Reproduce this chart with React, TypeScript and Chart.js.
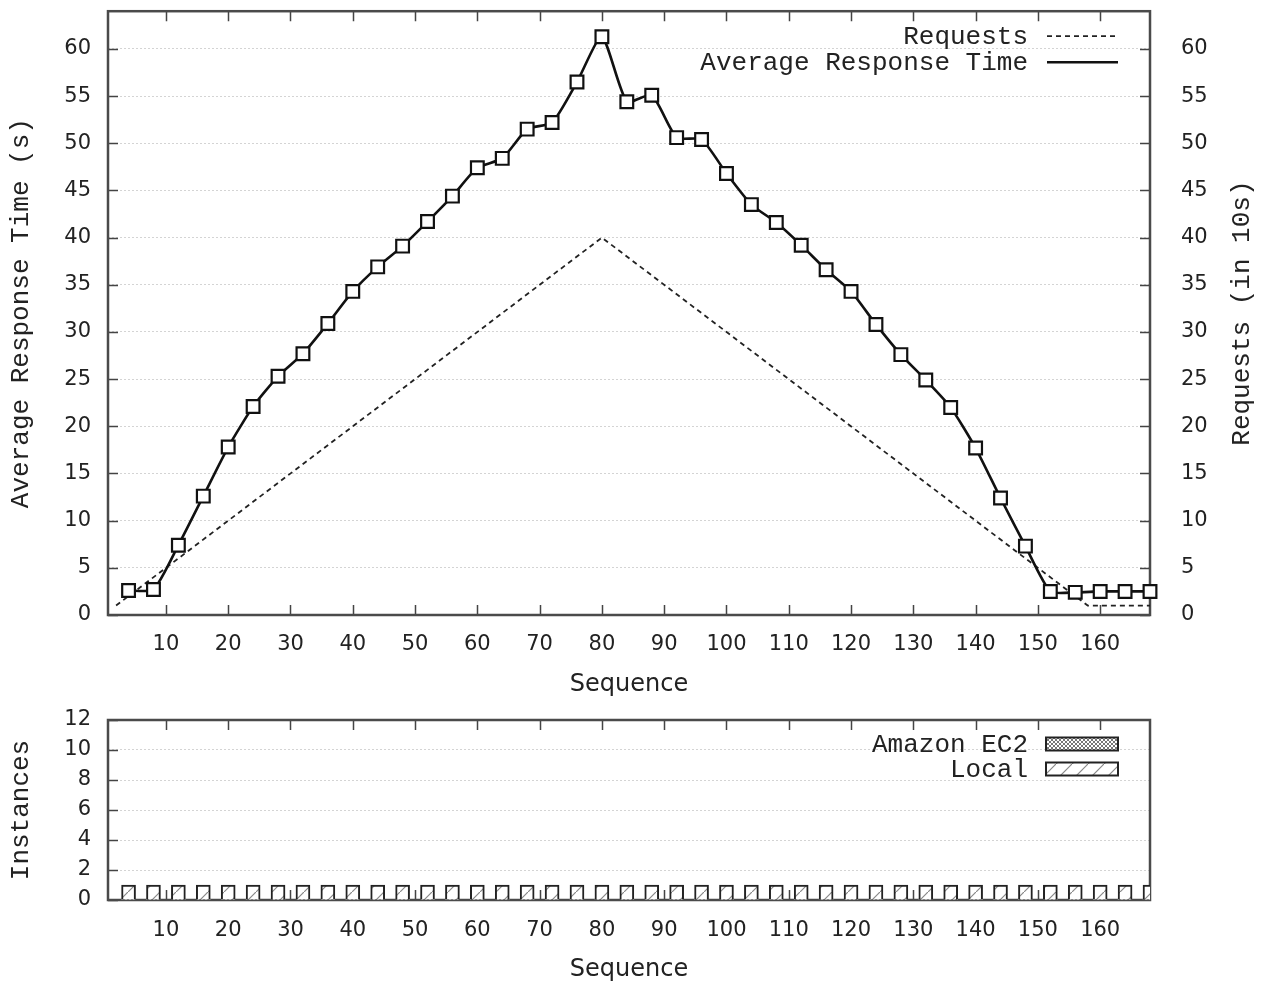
import React, { useEffect, useRef } from 'react';
import { Chart, registerables } from 'chart.js';

Chart.register(...registerables);

// ---------- data ----------
const sequence = [4, 8, 12, 16, 20, 24, 28, 32, 36, 40, 44, 48, 52, 56, 60, 64, 68, 72, 76, 80, 84, 88, 92, 96, 100, 104, 108, 112, 116, 120, 124, 128, 132, 136, 140, 144, 148, 152, 156, 160, 164, 168];
const avgResponseTime = [2.6, 2.7, 7.4, 12.6, 17.8, 22.1, 25.3, 27.7, 30.9, 34.3, 36.9, 39.1, 41.7, 44.4, 47.4, 48.4, 51.5, 52.2, 56.5, 61.3, 54.4, 55.1, 50.6, 50.4, 46.8, 43.5, 41.6, 39.2, 36.6, 34.3, 30.8, 27.6, 24.9, 22.0, 17.7, 12.4, 7.3, 2.5, 2.4, 2.5, 2.5, 2.5];
const requestSeq = [2, 80, 158, 168];
const requestValues = [1, 40, 1, 1];
const amazonInstances = [0, 0, 0, 0, 0, 0, 0, 0, 0, 0, 0, 0, 0, 0, 0, 0, 0, 0, 0, 0, 0, 0, 0, 0, 0, 0, 0, 0, 0, 0, 0, 0, 0, 0, 0, 0, 0, 0, 0, 0, 0, 0];
const localInstances = [1, 1, 1, 1, 1, 1, 1, 1, 1, 1, 1, 1, 1, 1, 1, 1, 1, 1, 1, 1, 1, 1, 1, 1, 1, 1, 1, 1, 1, 1, 1, 1, 1, 1, 1, 1, 1, 1, 1, 1, 1, 1];
const xTicks = [10, 20, 30, 40, 50, 60, 70, 80, 90, 100, 110, 120, 130, 140, 150, 160];
const topYTicks = [0, 5, 10, 15, 20, 25, 30, 35, 40, 45, 50, 55, 60];
const bottomYTicks = [0, 2, 4, 6, 8, 10, 12];

const MONO = '"Liberation Mono", "Courier New", monospace';
const SANS = '"DejaVu Sans", sans-serif';
const TEXT = '#222';

function diagPattern(): CanvasPattern | string {
  const c = document.createElement('canvas');
  c.width = 16; c.height = 16;
  const g = c.getContext('2d');
  if (!g) return '#fff';
  g.fillStyle = '#fff'; g.fillRect(0, 0, 16, 16);
  g.strokeStyle = '#888'; g.lineWidth = 1.2;
  g.beginPath(); g.moveTo(-1, 17); g.lineTo(17, -1); g.stroke();
  return g.createPattern(c, 'repeat') || '#fff';
}
function crossPattern(): CanvasPattern | string {
  const c = document.createElement('canvas');
  c.width = 4; c.height = 4;
  const g = c.getContext('2d');
  if (!g) return '#999';
  g.fillStyle = '#fff'; g.fillRect(0, 0, 4, 4);
  g.strokeStyle = '#777'; g.lineWidth = 1;
  g.beginPath(); g.moveTo(0, 0); g.lineTo(4, 4); g.moveTo(4, 0); g.lineTo(0, 4); g.stroke();
  return g.createPattern(c, 'repeat') || '#999';
}

const framePlugin = {
  id: 'frame',
  beforeDatasetsDraw(chart: any, _args: any, opts: any) {
    const { ctx, chartArea: a } = chart;
    const tl = 10;
    ctx.save();
    ctx.strokeStyle = '#444';
    ctx.lineWidth = 1.5;
    ctx.beginPath();
    const xs = chart.scales.x;
    xs.ticks.forEach((t: any) => {
      const p = Math.round(xs.getPixelForValue(t.value)) + 0.5;
      ctx.moveTo(p, a.bottom); ctx.lineTo(p, a.bottom - tl);
      ctx.moveTo(p, a.top); ctx.lineTo(p, a.top + tl);
    });
    const ys = chart.scales.y;
    ys.ticks.forEach((t: any) => {
      const p = Math.round(ys.getPixelForValue(t.value)) + 0.5;
      ctx.moveTo(a.left, p); ctx.lineTo(a.left + tl, p);
    });
    if (opts.rightAxis && chart.scales[opts.rightAxis]) {
      const rs = chart.scales[opts.rightAxis];
      rs.ticks.forEach((t: any) => {
        const p = Math.round(rs.getPixelForValue(t.value)) + 0.5;
        ctx.moveTo(a.right, p); ctx.lineTo(a.right - tl, p);
      });
    }
    ctx.stroke();
    ctx.lineWidth = 2.5;
    ctx.strokeStyle = '#4a4a4a';
    ctx.strokeRect(a.left, a.top, a.right - a.left, a.bottom - a.top);
    ctx.restore();
  },
  afterDraw(chart: any, _args: any, opts: any) {
    if (!opts.rightTitle) return;
    const { ctx, chartArea: a } = chart;
    ctx.save();
    ctx.font = `26px ${MONO}`;
    ctx.fillStyle = TEXT;
    ctx.textAlign = 'center';
    ctx.textBaseline = 'middle';
    ctx.translate(a.right + opts.rightTitleOffset, (a.top + a.bottom) / 2);
    ctx.rotate(-Math.PI / 2);
    ctx.fillText(opts.rightTitle, 0, 0);
    ctx.restore();
  },
};

const legendPlugin = {
  id: 'insideLegend',
  afterDatasetsDraw(chart: any, _args: any, opts: any) {
    const { ctx, chartArea: a } = chart;
    ctx.save();
    ctx.font = `26px ${MONO}`;
    ctx.fillStyle = TEXT;
    ctx.textAlign = 'right';
    ctx.textBaseline = 'middle';
    chart.data.datasets.forEach((ds: any, i: number) => {
      const y = a.top + opts.first + i * opts.spacing;
      ctx.fillText(ds.label, a.right + opts.textRight, y + 1);
      const x0 = a.right + opts.sampleStart;
      const x1 = a.right + opts.sampleEnd;
      if (opts.kind === 'line') {
        ctx.save();
        ctx.strokeStyle = ds.borderColor;
        ctx.lineWidth = ds.borderWidth;
        ctx.setLineDash(ds.borderDash || []);
        ctx.beginPath(); ctx.moveTo(x0, y); ctx.lineTo(x1, y); ctx.stroke();
        ctx.restore();
      } else {
        ctx.save();
        ctx.fillStyle = ds.backgroundColor;
        ctx.fillRect(x0, y - 6.5, x1 - x0, 13);
        ctx.strokeStyle = '#222';
        ctx.lineWidth = 2;
        ctx.strokeRect(x0, y - 6.5, x1 - x0, 13);
        ctx.restore();
      }
    });
    ctx.restore();
  },
};

const tickFont = { family: SANS, size: 21 };

const fitY = (w: number) => (s: any) => { s.width = w; s.paddingTop = 0; s.paddingBottom = 0; };
const fitX = (h: number) => (s: any) => { s.height = h; s.paddingLeft = 0; s.paddingRight = 0; };

export default function App() {
  const topRef = useRef<HTMLCanvasElement>(null);
  const botRef = useRef<HTMLCanvasElement>(null);

  useEffect(() => {
    const respPoints = sequence.map((s, i) => ({ x: s, y: avgResponseTime[i] }));
    const reqPoints = requestSeq.map((s, i) => ({ x: s, y: requestValues[i] }));

    const top = new Chart(topRef.current as HTMLCanvasElement, {
      type: 'line',
      data: {
        datasets: [
          {
            label: 'Requests',
            data: reqPoints,
            yAxisID: 'y2',
            borderColor: '#222',
            borderWidth: 1.8,
            borderDash: [5, 4],
            pointRadius: 0,
            tension: 0,
            order: 1,
          },
          {
            label: 'Average Response Time',
            data: respPoints,
            yAxisID: 'y',
            borderColor: '#111',
            borderWidth: 2.6,
            tension: 0.2,
            pointStyle: 'rect',
            pointRadius: 9,
            pointBorderWidth: 2.2,
            pointBorderColor: '#111',
            pointBackgroundColor: '#fff',
            clip: false as any,
            order: 0,
          },
        ],
      } as any,
      options: {
        responsive: false,
        animation: false,
        devicePixelRatio: 1,
        layout: { padding: { top: 9, left: 0, right: 0, bottom: 0 } },
        plugins: {
          legend: { display: false },
          tooltip: { enabled: false },
          frame: { rightAxis: 'y2', rightTitle: 'Requests (in 10s)', rightTitleOffset: 92 },
          insideLegend: { kind: 'line', first: 25, spacing: 26, textRight: -122, sampleStart: -103, sampleEnd: -32 },
        } as any,
        scales: {
          x: {
            type: 'linear',
            position: 'bottom',
            min: 0.7,
            max: 168,
            offset: false,
            afterBuildTicks: (s: any) => { s.ticks = xTicks.map((v) => ({ value: v })); },
            afterFit: fitX(85),
            grid: { display: false, drawTicks: false },
            border: { display: false },
            ticks: { font: tickFont, color: TEXT, padding: 17, maxRotation: 0, autoSkip: false },
            title: { display: true, text: 'Sequence', font: { family: SANS, size: 24 }, color: TEXT, padding: { top: 0, bottom: 1 } },
          },
          y: {
            type: 'linear',
            position: 'left',
            min: 0,
            max: 64,
            afterBuildTicks: (s: any) => { s.ticks = topYTicks.map((v) => ({ value: v })); },
            afterFit: fitY(108),
            grid: { color: '#d4d4d4', lineWidth: 1, drawTicks: false },
            border: { display: false, dash: [2, 2] },
            ticks: { font: tickFont, color: TEXT, padding: 17 },
            title: { display: true, text: 'Average Response Time (s)', font: { family: MONO, size: 26 }, color: TEXT, padding: { top: 6, bottom: 0 } },
          },
          y2: {
            type: 'linear',
            position: 'right',
            min: 0,
            max: 64,
            afterBuildTicks: (s: any) => { s.ticks = topYTicks.map((v) => ({ value: v })); },
            afterFit: fitY(113),
            grid: { display: false, drawTicks: false },
            border: { display: false },
            ticks: { font: tickFont, color: TEXT, padding: 31 },
            title: { display: false, text: 'Requests (in 10s)' },
          },
        },
      } as any,
      plugins: [framePlugin, legendPlugin],
    });

    const bottom = new Chart(botRef.current as HTMLCanvasElement, {
      type: 'bar',
      data: {
        datasets: [
          {
            label: 'Amazon EC2',
            data: sequence.map((s, i) => ({ x: s, y: amazonInstances[i] })),
            backgroundColor: crossPattern(),
            borderColor: '#222',
            borderWidth: 0,
            barThickness: 14,
            grouped: false,
          },
          {
            label: 'Local',
            data: sequence.map((s, i) => ({ x: s, y: localInstances[i] })),
            backgroundColor: diagPattern(),
            borderColor: '#222',
            borderWidth: 2,
            barThickness: 14,
            grouped: false,
          },
        ],
      } as any,
      options: {
        responsive: false,
        animation: false,
        devicePixelRatio: 1,
        layout: { padding: { top: 20, left: 0, right: 113, bottom: 0 } },
        plugins: {
          legend: { display: false },
          tooltip: { enabled: false },
          frame: {},
          insideLegend: { kind: 'box', first: 24, spacing: 25, textRight: -122, sampleStart: -104, sampleEnd: -32 },
        } as any,
        scales: {
          x: {
            type: 'linear',
            position: 'bottom',
            min: 0.7,
            max: 168,
            offset: false,
            afterBuildTicks: (s: any) => { s.ticks = xTicks.map((v) => ({ value: v })); },
            afterFit: fitX(85),
            grid: { display: false, drawTicks: false, offset: false },
            border: { display: false },
            ticks: { font: tickFont, color: TEXT, padding: 18, maxRotation: 0, autoSkip: false },
            title: { display: true, text: 'Sequence', font: { family: SANS, size: 24 }, color: TEXT, padding: { top: 0, bottom: 1 } },
          },
          y: {
            type: 'linear',
            position: 'left',
            min: 0,
            max: 12,
            afterBuildTicks: (s: any) => { s.ticks = bottomYTicks.map((v) => ({ value: v })); },
            afterFit: fitY(108),
            grid: { color: '#d4d4d4', lineWidth: 1, drawTicks: false },
            border: { display: false, dash: [2, 2] },
            ticks: { font: tickFont, color: TEXT, padding: 17 },
            title: { display: true, text: 'Instances', font: { family: MONO, size: 26 }, color: TEXT, padding: { top: 6, bottom: 0 } },
          },
        },
      } as any,
      plugins: [framePlugin, legendPlugin],
    });

    return () => { top.destroy(); bottom.destroy(); };
  }, []);

  return (
    <div style={{ position: 'absolute', left: 0, top: 0, width: 1263, height: 985, background: '#fff' }}>
      <canvas ref={topRef} width={1263} height={700} style={{ position: 'absolute', left: 0, top: 0 }} />
      <canvas ref={botRef} width={1263} height={285} style={{ position: 'absolute', left: 0, top: 700 }} />
    </div>
  );
}
